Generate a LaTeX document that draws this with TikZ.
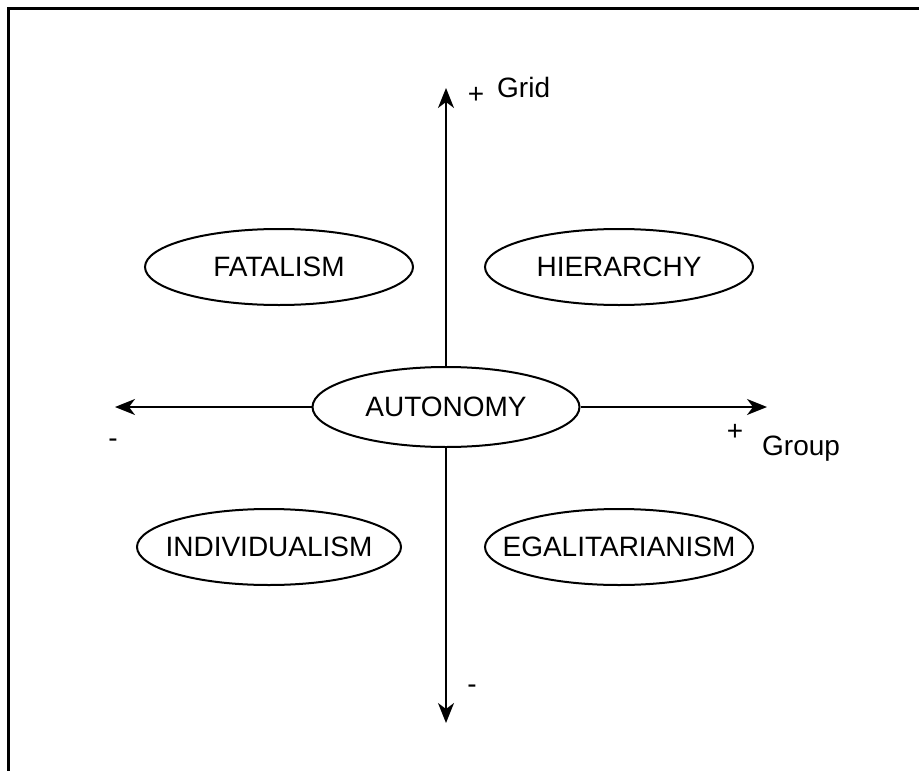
\documentclass[tikz,border=0pt]{standalone}
\usepackage{fontspec}
\setmainfont{Liberation Sans}
\usetikzlibrary{shapes.geometric,arrows.meta}
\begin{document}
\begin{tikzpicture}[x=1pt,y=-1pt,
  every node/.style={inner sep=0pt, font=\fontsize{28}{33}\selectfont},
  culture/.style={ellipse, draw, line width=2pt, minimum width=268pt, minimum height=76pt},
  axis/.style={line width=2pt, -{Stealth[length=20pt,width=16pt,inset=6pt]}},
  frameline/.style={line width=3pt}]
  \useasboundingbox (0,0) rectangle (919,771);
  % open frame: top and left edges
  \draw[frameline] (8,771) -- (8,8) -- (919,8);

  % the five ways of life
  \node[culture, minimum height=80pt, minimum width=267pt] (aut) at (446,407) {\makebox[0pt]{AUTONOMY}};
  \node[culture] (fat) at (279,267) {\makebox[0pt]{FATALISM}};
  \node[culture] (hie) at (619,267) {\makebox[0pt]{HIERARCHY}};
  \node[culture, minimum width=264pt] (ind) at (269,547) {\makebox[0pt]{INDIVIDUALISM}};
  \node[culture] (ega) at (619,547) {\makebox[0pt]{EGALITARIANISM}};

  % axis end points
  \coordinate (up) at (446,88);
  \coordinate (down) at (446,723);
  \coordinate (left) at (115,407);
  \coordinate (right) at (767,407);

  % grid and group axes
  \draw[axis] (aut.north) -- (up);
  \draw[axis] (aut.south) -- (down);
  \draw[axis] (aut.west) -- (left);
  \draw[axis] (aut.east) -- (right);

  % axis labels
  \node[anchor=base] (gplus) at (476,103.5) {+};
  \node[anchor=base west] (grid) at (497,97) {Grid};
  \node[anchor=base] (rplus) at (735,440.5) {+};
  \node[anchor=base west] (group) at (762,455) {Group};
  \node[anchor=base] (lminus) at (113,447) {-};
  \node[anchor=base] (bminus) at (472,693) {-};
\end{tikzpicture}
\end{document}
